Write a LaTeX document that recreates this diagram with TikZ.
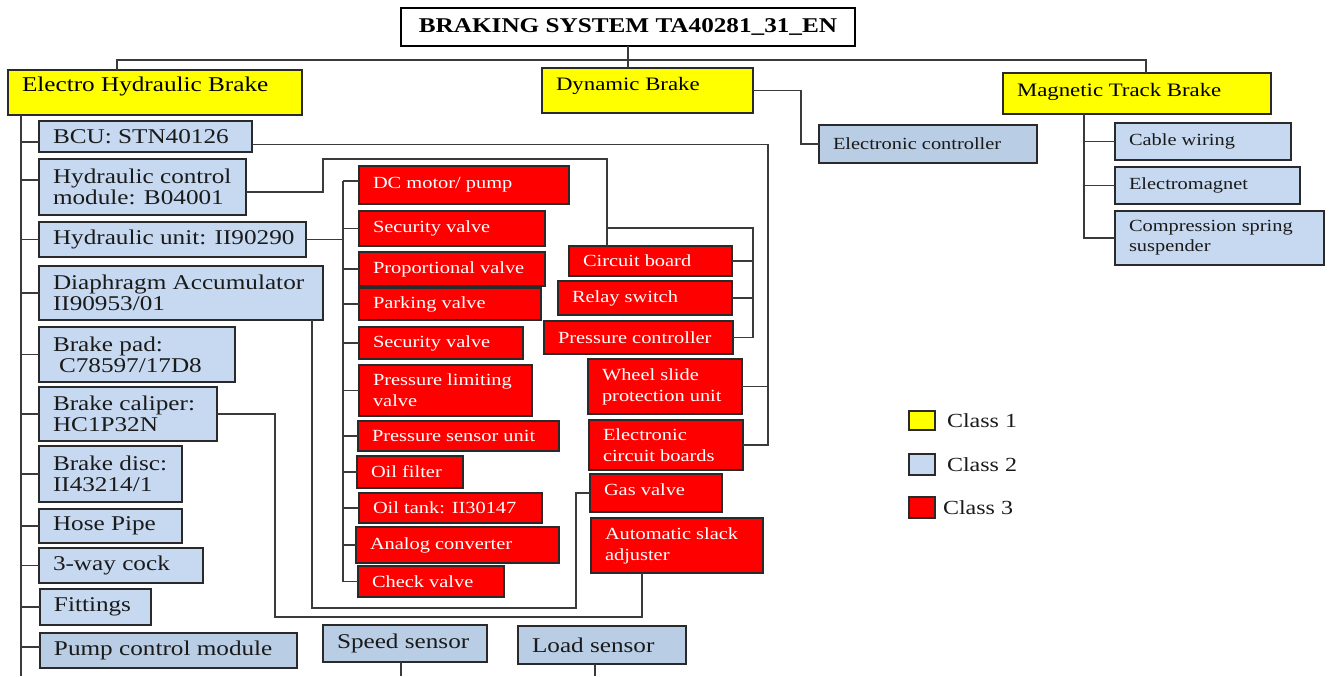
\documentclass[tikz,border=0pt]{standalone}
\usepackage{fontspec}
\setmainfont[FakeStretch=1.2]{Liberation Serif}
\definecolor{cyel}{HTML}{FFFF00}
\definecolor{cblu}{HTML}{C6D9F1}
\definecolor{cblud}{HTML}{B9CDE5}
\definecolor{cred}{HTML}{FF0000}
\definecolor{clin}{HTML}{3A3A3A}
\definecolor{cbrd}{HTML}{2A2A2A}
\definecolor{ctxt}{HTML}{1A1A1A}
\tikzset{
 bx/.style={draw=cbrd, line width=0.9pt, inner sep=0pt, outer sep=0pt, anchor=north west},
 cA/.style={bx, fill=cyel},
 cB/.style={bx, fill=cblu},
 cBd/.style={bx, fill=cblud},
 cC/.style={bx, fill=cred},
 cT/.style={bx, fill=white, draw=black},
 tx/.style={inner sep=0pt, outer sep=0pt, anchor=west, align=left},
 tA/.style={tx, font=\fontsize{10.5}{10.5}\selectfont},
 tD/.style={tx, font=\fontsize{9.5}{10.5}\selectfont},
 tB/.style={tx, font=\fontsize{10.5}{10.5}\selectfont, text=ctxt},
 tBs/.style={tx, font=\fontsize{8.5}{10}\selectfont, text=ctxt},
 tC/.style={tx, font=\fontsize{8.5}{10.5}\selectfont, text=white},
 tL/.style={tx, font=\fontsize{10}{10}\selectfont, text=ctxt},
 ln/.style={draw=clin, line width=0.75pt},
}
\newcommand\mkbox[8]{%
 \node[#2, minimum width={(#6-#4)*0.5pt}, minimum height={(#7-#5)*0.5pt}] (#1) at (#4,#5) {};
 \node[#3] (#1t) at ([xshift=7pt]#1.west) {#8};}
\begin{document}
\begin{tikzpicture}[x=0.5pt,y=-0.5pt]
\useasboundingbox (0,0) rectangle (1333,676);
% title
\node[cT, minimum width={454*0.5pt}, minimum height={38*0.5pt}] (title) at (401,8) {};
\node[tx, anchor=center, font=\fontsize{10.5}{10.5}\selectfont\bfseries] (titlet) at (title.center) {BRAKING SYSTEM TA40281\_31\_EN};
% class 1
\mkbox{ehb}{cA}{tA, yshift=3pt}{8}{70}{302}{115}{Electro Hydraulic Brake}
\mkbox{db}{cA}{tD, yshift=2.25pt}{542}{68}{753}{113}{Dynamic Brake}
\mkbox{mtb}{cA}{tD, yshift=1pt}{1003}{73}{1271}{114}{Magnetic Track Brake}
% class 2
\mkbox{ec}{cBd}{tBs}{819}{125}{1037}{163}{Electronic controller}
\mkbox{cw}{cB}{tBs}{1115}{123}{1291}{160}{Cable wiring}
\mkbox{em}{cB}{tBs}{1115}{167}{1300}{204}{Electromagnet}
\mkbox{csp}{cB}{tBs}{1115}{211}{1324}{265}{Compression spring\\suspender}
\mkbox{bcu}{cB}{tB}{39}{121}{252}{152}{BCU: STN40126}
\mkbox{hcm}{cB}{tB}{39}{159}{246}{215}{Hydraulic control\\module: B04001}
\mkbox{hu}{cB}{tB}{39}{222}{306}{257}{Hydraulic unit: II90290}
\mkbox{da}{cB}{tB}{39}{266}{323}{320}{Diaphragm Accumulator\\II90953/01}
\mkbox{bp}{cB}{tB}{39}{327}{235}{382}{Brake pad:\\\hspace*{3pt}C78597/17D8}
\mkbox{bc}{cB}{tB}{39}{387}{217}{441}{Brake caliper:\\HC1P32N}
\mkbox{bd}{cB}{tB}{39}{446}{182}{502}{Brake disc:\\II43214/1}
\mkbox{hp}{cB}{tB}{39}{509}{182}{543}{Hose Pipe}
\mkbox{twc}{cB}{tB}{39}{548}{203}{583}{3-way cock}
\mkbox{fit}{cB}{tB}{40}{589}{151}{625}{Fittings}
\mkbox{pcm}{cBd}{tB}{40}{633}{297}{668}{Pump control module}
\mkbox{ss}{cBd}{tB}{323}{625}{487}{662}{Speed sensor}
\mkbox{ls}{cBd}{tB}{518}{626}{686}{664}{Load sensor}
% class 3
\mkbox{dc}{cC}{tC}{359}{166}{569}{204}{DC motor/ pump}
\mkbox{sv1}{cC}{tC}{359}{211}{545}{246}{Security valve}
\mkbox{pv}{cC}{tC}{359}{252}{545}{286}{Proportional valve}
\mkbox{pk}{cC}{tC}{359}{288}{541}{320}{Parking valve}
\mkbox{sv2}{cC}{tC}{359}{327}{523}{359}{Security valve}
\mkbox{plv}{cC}{tC}{359}{365}{532}{416}{Pressure limiting\\valve}
\mkbox{psu}{cC}{tC}{358}{421}{559}{451}{Pressure sensor unit}
\mkbox{of}{cC}{tC}{357}{456}{463}{488}{Oil filter}
\mkbox{ot}{cC}{tC}{359}{493}{542}{523}{Oil tank: II30147}
\mkbox{ac}{cC}{tC}{356}{527}{559}{563}{Analog converter}
\mkbox{cv}{cC}{tC}{358}{566}{504}{597}{Check valve}
\mkbox{cb}{cC}{tC}{569}{246}{732}{276}{Circuit board}
\mkbox{rs}{cC}{tC}{558}{281}{732}{315}{Relay switch}
\mkbox{pc}{cC}{tC}{544}{321}{733}{354}{Pressure controller}
\mkbox{wsp}{cC}{tC}{588}{359}{742}{414}{Wheel slide\\protection unit}
\mkbox{ecb}{cC}{tC}{589}{420}{743}{470}{Electronic\\circuit boards}
\mkbox{gv}{cC}{tC, yshift=1.5pt}{590}{474}{722}{512}{Gas valve}
\mkbox{asa}{cC}{tC}{591}{518}{763}{573}{Automatic slack\\adjuster}
% legend
\node[cA, minimum width=13pt, minimum height=9.5pt] (l1) at (909,411) {};
\node[tL] (l1t) at ([xshift=6pt]l1.east) {Class 1};
\node[cB, minimum width=13pt, minimum height=10.5pt] (l2) at (909,454) {};
\node[tL] (l2t) at ([xshift=6pt]l2.east) {Class 2};
\node[cC, minimum width=13pt, minimum height=10.5pt] (l3) at (909,497) {};
\node[tL] (l3t) at ([xshift=4pt]l3.east) {Class 3};
% connectors: top level
\coordinate (barL) at (117,60);
\coordinate (barR) at (1146,60);
\draw[ln] (barL |- ehb.north) -- (barL) -- (barR) -- (barR |- mtb.north);
\draw[ln] (title.south) -- (title.south |- db.north);
% dynamic brake
\draw[ln] (db.east) -- ++(48,0) |- (ec.west);
% magnetic track brake
\coordinate (mt) at (1084,114);
\draw[ln] (mt) |- (csp.west);
\draw[ln] (mt |- cw.west) -- (cw.west);
\draw[ln] (mt |- em.west) -- (em.west);
% electro hydraulic brake trunk
\coordinate (et) at (21,115);
\draw[ln] (et) -- (21,676);
\draw[ln] (et |- 0,142) -- (bcu.west |- 0,142);
\draw[ln] (et |- 0,180) -- (hcm.west |- 0,180);
\foreach \n in {hu,da,bp,bc,bd,hp,twc,fit}
  \draw[ln] (et |- \n.west) -- (\n.west);
\draw[ln] (et |- 0,647) -- (pcm.west |- 0,647);
% BCU
\draw[ln] ([yshift=-4pt]bcu.east) -- ++(516,0) coordinate (bv) |- (ecb.east);
\draw[ln] (wsp.east) -- (wsp.east -| bv);
% HCM
\draw[ln] ([yshift=-2.5pt]hcm.east) -- ++(77,0) |- (607,159) -- (607,0 |- cb.north);
\coordinate (bk) at (607,228);
\draw[ln] (bk) -- (753,228) |- (pc.east);
\draw[ln] (cb.east) -- (cb.east -| 753,0);
\draw[ln] (rs.east) -- (rs.east -| 753,0);
% hydraulic unit
\coordinate (rt) at (343,0);
\draw[ln] (hu.east) -- (hu.east -| rt);
\draw[ln] (rt |- 0,181) -- (rt |- cv.west);
\draw[ln] (rt |- 0,181) -- (dc.west |- 0,181);
\foreach \n in {sv1,pv,pk,sv2,plv,psu,of,ot,ac,cv}
  \draw[ln] (rt |- \n.west) -- (\n.west);
% diaphragm accumulator -> gas valve
\draw[ln] (da.south -| 312,0) |- (576,608) |- (gv.west);
% brake caliper -> slack adjuster
\draw[ln] (bc.east) -| (275,617) -| (asa.south -| 642,0);
% sensors
\draw[ln] (ss.south -| 401,0) -- (401,676);
\draw[ln] (ls.south -| 595,0) -- (595,676);
\end{tikzpicture}
\end{document}
